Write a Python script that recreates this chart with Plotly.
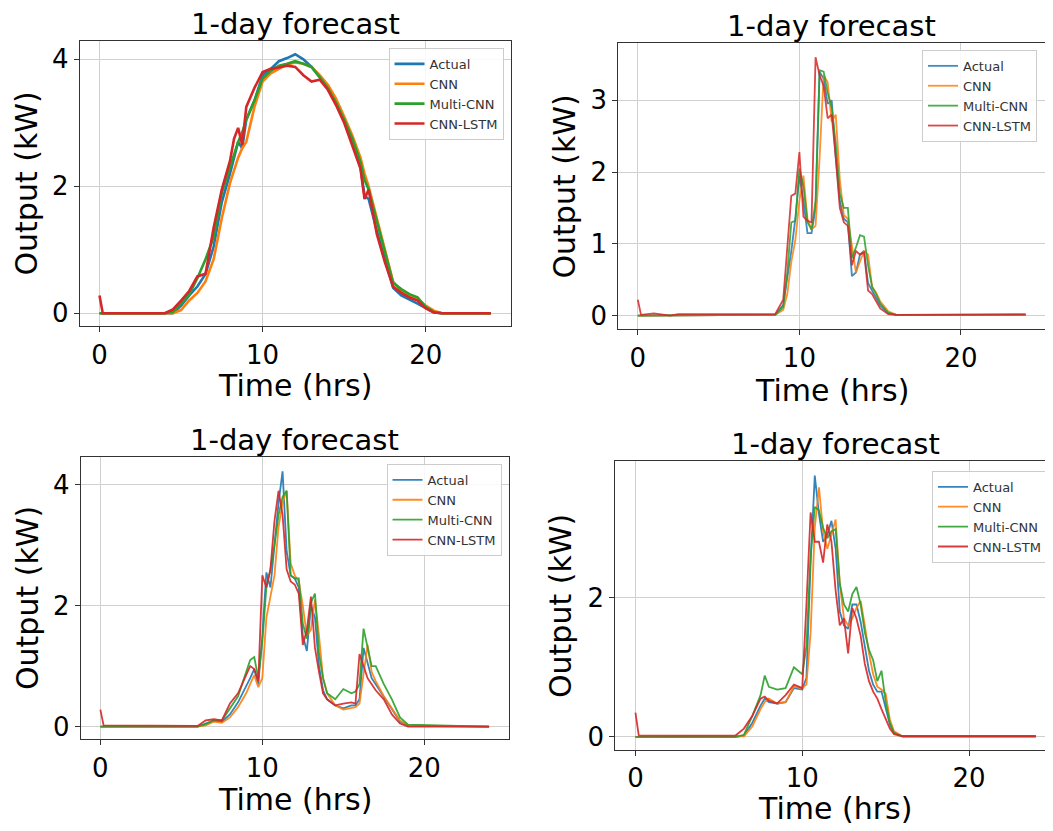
import plotly.graph_objects as go

# the page body adds an 8px margin, so the figure is drawn 8px smaller and
# every pixel position below is shifted back by 8
OFF = 8
W, H = 1053 - OFF, 831 - OFF

names = ["Actual", "CNN", "Multi-CNN", "CNN-LSTM"]
colors = ["#1f77b4", "#ff7f0e", "#2ca02c", "#d62728"]

# ---- panel 1 (top left) ----
t1 = [0, 0.2, 4.0, 4.5, 5.0, 5.5, 6.0, 6.5, 7.0, 7.5, 8.0, 8.25, 8.5, 8.75, 9.0, 9.5,
      10.0, 10.5, 11.0, 11.5, 12.0, 12.5, 13.0, 13.5, 14.0, 14.5, 15.0, 15.5, 16.0,
      16.25, 16.5, 17.0, 17.5, 18.0, 18.5, 19.0, 19.5, 20.0, 20.5, 21.0, 24.0]
actual1 = [0, 0, 0, 0, 0.12, 0.28, 0.42, 0.62, 1.05, 1.75, 2.2, 2.45, 2.7, 2.6, 3.05, 3.35,
           3.75, 3.85, 3.97, 4.02, 4.08, 4.0, 3.88, 3.72, 3.55, 3.3, 3.02, 2.7, 2.3,
           1.85, 1.8, 1.3, 0.85, 0.4, 0.28, 0.22, 0.15, 0.08, 0.01, 0, 0]
cnn1 = [0, 0, 0, 0, 0.05, 0.2, 0.32, 0.5, 0.85, 1.5, 2.05, 2.25, 2.45, 2.6, 2.7, 3.25,
        3.65, 3.78, 3.85, 3.92, 3.95, 3.93, 3.88, 3.75, 3.6, 3.38, 3.1, 2.8, 2.45,
        2.2, 2.0, 1.5, 1.0, 0.5, 0.35, 0.28, 0.22, 0.12, 0.04, 0, 0]
multi1 = [0, 0, 0, 0.02, 0.15, 0.3, 0.55, 0.85, 1.2, 1.9, 2.3, 2.5, 2.7, 2.85, 3.05, 3.35,
          3.7, 3.82, 3.9, 3.93, 3.97, 3.93, 3.88, 3.72, 3.55, 3.32, 3.05, 2.75, 2.38,
          2.1, 1.95, 1.45, 0.95, 0.48, 0.38, 0.3, 0.25, 0.1, 0.02, 0, 0]
lstm1 = [0.28, 0, 0, 0.06, 0.2, 0.35, 0.58, 0.62, 1.35, 1.95, 2.4, 2.75, 2.92, 2.65, 3.25, 3.55,
         3.8, 3.85, 3.87, 3.9, 3.88, 3.75, 3.65, 3.68, 3.52, 3.28, 3.0, 2.65, 2.28,
         1.8, 1.95, 1.25, 0.8, 0.42, 0.32, 0.25, 0.2, 0.08, 0.01, 0, 0]

# ---- panel 2 (top right) ----
t2 = [0, 0.2, 1.0, 1.5, 2.0, 2.5, 8.5, 9.0, 9.25, 9.5, 9.75, 10.0, 10.25, 10.5, 10.75,
      11.0, 11.25, 11.5, 11.75, 12.0, 12.25, 12.5, 12.75, 13.0, 13.25, 13.5, 13.75,
      14.0, 14.25, 14.5, 14.75, 15.0, 15.5, 16.0, 24.0]
actual2 = [0, 0, 0, 0, 0, 0, 0.01, 0.15, 0.5, 0.9, 1.35, 1.95, 1.6, 1.15, 1.15,
           1.5, 3.4, 3.3, 2.95, 3.0, 2.2, 1.6, 1.35, 1.3, 0.55, 0.6, 0.85,
           0.9, 0.45, 0.35, 0.25, 0.14, 0.03, 0.01, 0.01]
cnn2 = [0, 0, 0, 0, 0, 0, 0.01, 0.08, 0.3, 0.75, 1.05, 1.6, 1.95, 1.35, 1.2,
        1.25, 2.2, 3.35, 3.25, 2.7, 2.8, 1.9, 1.4, 1.35, 0.95, 0.6, 0.75,
        0.9, 0.85, 0.4, 0.32, 0.2, 0.06, 0.01, 0.01]
multi2 = [0, 0, 0, 0, 0, 0, 0.01, 0.12, 0.6, 1.3, 1.32, 2.05, 1.8, 1.3, 1.2,
          1.6, 3.42, 3.4, 3.1, 2.9, 2.4, 1.7, 1.5, 1.5, 0.8, 0.95, 1.12,
          1.1, 0.7, 0.4, 0.3, 0.17, 0.04, 0.01, 0.01]
lstm2 = [0.22, 0.01, 0.03, 0.02, 0.0, 0.02, 0.02, 0.22, 1.0, 1.67, 1.7, 2.28, 1.38, 1.32, 1.3,
         3.6, 3.35, 3.2, 2.75, 2.8, 2.2, 1.5, 1.3, 1.25, 0.7, 0.9, 0.85,
         0.88, 0.35, 0.3, 0.2, 0.1, 0.02, 0.01, 0.02]

# ---- panel 3 (bottom left) ----
t3 = [0, 0.2, 6.0, 6.5, 7.0, 7.5, 8.0, 8.5, 9.0, 9.25, 9.5, 9.75, 10.0, 10.25, 10.5,
      10.75, 11.0, 11.25, 11.5, 11.75, 12.0, 12.25, 12.5, 12.75, 13.0, 13.25, 13.5,
      13.75, 14.0, 14.5, 15.0, 15.5, 15.75, 16.0, 16.25, 16.5, 16.75, 17.0, 17.5,
      18.0, 18.5, 19.0, 24.0]
actual3 = [0, 0, 0, 0.05, 0.1, 0.08, 0.2, 0.4, 0.65, 0.8, 0.95, 0.7, 1.5, 2.55, 2.3,
           3.0, 3.7, 4.22, 2.9, 2.5, 2.45, 2.3, 1.5, 1.25, 2.0, 1.8, 1.0,
           0.6, 0.45, 0.35, 0.3, 0.35, 0.35, 0.45, 1.3, 1.05, 0.8, 0.7, 0.5,
           0.3, 0.08, 0.01, 0]
cnn3 = [0, 0, 0, 0.02, 0.08, 0.06, 0.15, 0.32, 0.55, 0.7, 0.85, 0.65, 0.8, 1.8, 2.15,
        2.5, 3.3, 3.7, 3.9, 2.7, 2.5, 2.4, 2.0, 1.5, 1.6, 2.1, 1.5,
        0.8, 0.55, 0.35, 0.28, 0.3, 0.32, 0.38, 0.9, 1.35, 0.9, 0.75, 0.5,
        0.3, 0.1, 0.02, 0]
multi3 = [0, 0, 0, 0.04, 0.1, 0.1, 0.3, 0.5, 0.9, 1.1, 1.15, 0.8, 1.4, 2.3, 2.6,
          3.0, 3.5, 3.8, 3.9, 2.5, 2.45, 2.45, 1.7, 1.45, 2.05, 2.2, 1.2,
          0.8, 0.55, 0.45, 0.62, 0.55, 0.58, 0.7, 1.62, 1.3, 1.0, 1.0, 0.7,
          0.45, 0.15, 0.03, 0]
lstm3 = [0.28, 0.02, 0.01, 0.1, 0.12, 0.1, 0.38, 0.55, 0.85, 1.0, 0.95, 0.75, 2.5, 2.3, 2.6,
         3.4, 3.9, 3.5, 2.6, 2.4, 2.35, 2.2, 1.35, 1.6, 2.15, 1.3, 0.9,
         0.55, 0.45, 0.35, 0.38, 0.4, 0.38, 1.2, 1.0, 0.8, 0.7, 0.6, 0.45,
         0.2, 0.05, 0.0, 0]

# ---- panel 4 (bottom right) ----
t4 = [0, 0.2, 6.0, 6.5, 7.0, 7.5, 7.75, 8.0, 8.5, 9.0, 9.5, 10.0, 10.25, 10.5, 10.75,
      11.0, 11.25, 11.5, 11.75, 12.0, 12.25, 12.5, 12.75, 13.0, 13.25, 13.5, 13.75,
      14.0, 14.25, 14.5, 14.75, 15.0, 15.25, 15.5, 16.0, 24.0]
actual4 = [0, 0, 0, 0.02, 0.2, 0.45, 0.55, 0.5, 0.48, 0.5, 0.7, 0.68, 0.85, 2.5, 3.75,
           3.2, 2.8, 2.9, 3.1, 2.7, 1.8, 1.6, 1.55, 1.9, 1.9, 1.65, 1.3,
           0.95, 0.75, 0.65, 0.65, 0.4, 0.18, 0.06, 0.01, 0.01]
cnn4 = [0, 0, 0, 0.01, 0.15, 0.4, 0.5, 0.55, 0.48, 0.5, 0.72, 0.7, 0.75, 1.5, 3.0,
        3.58, 2.95, 2.7, 2.9, 3.12, 2.2, 1.7, 1.6, 1.7, 1.85, 1.95, 1.6,
        1.2, 0.9, 0.72, 0.68, 0.62, 0.25, 0.08, 0.01, 0.01]
multi4 = [0, 0, 0, 0.03, 0.3, 0.6, 0.88, 0.72, 0.68, 0.7, 1.0, 0.9, 1.3, 2.6, 3.3,
          3.25, 3.0, 2.85, 2.95, 2.98, 2.2, 1.9, 1.8, 2.05, 2.15, 1.9, 1.5,
          1.25, 1.1, 0.8, 0.95, 0.5, 0.2, 0.06, 0.01, 0.01]
lstm4 = [0.35, 0.02, 0.02, 0.12, 0.3, 0.55, 0.58, 0.52, 0.48, 0.6, 0.75, 0.7, 1.9, 3.22, 2.8,
         2.8, 2.5, 3.05, 2.8, 2.1, 1.6, 1.7, 1.2, 1.85, 1.7, 1.45, 1.05,
         0.8, 0.65, 0.55, 0.4, 0.25, 0.12, 0.04, 0.01, 0.01]

x_ticks = [0, 10, 20]

# pixel boxes of each axes in the reference: left, right, top, bottom
panels = [
    dict(t=t1, ys=[actual1, cnn1, multi1, lstm1], box=(80, 511, 41, 327),
         xr=[-1.2, 25.2], yr=[-0.205, 4.29], yt=[0, 2, 4], lw=2.6, op=1.0,
         leg=(504, 48), ytitle_x=27, xtitle_y=386, cx=295.5),
    dict(t=t2, ys=[actual2, cnn2, multi2, lstm2], box=(619, 1046, 43, 330),
         xr=[-1.2, 25.2], yr=[-0.19, 3.8], yt=[0, 1, 2, 3], lw=1.8, op=0.85,
         leg=(1038, 50), ytitle_x=565, xtitle_y=391, cx=832.5),
    dict(t=t3, ys=[actual3, cnn3, multi3, lstm3], box=(81, 509, 458, 741),
         xr=[-1.2, 25.2], yr=[-0.21, 4.46], yt=[0, 2, 4], lw=1.8, op=0.9,
         leg=(502, 465), ytitle_x=27, xtitle_y=801, cx=295),
    dict(t=t4, ys=[actual4, cnn4, multi4, lstm4], box=(616, 1053, 462, 752),
         xr=[-1.2, 24.97], yr=[-0.19, 3.96], yt=[0, 2], lw=1.8, op=0.9,
         leg=(1048, 472), ytitle_x=561, xtitle_y=810, cx=836),
]


def px(v):
    return (v - OFF) / W


def py(v):
    return 1 - (v - OFF) / H


FONT = "DejaVu Sans"
fig = go.Figure()
annotations = []
layout = {}

for i, p in enumerate(panels, start=1):
    sfx = "" if i == 1 else str(i)
    legname = "legend" + sfx
    l, r, top, bot = p["box"]
    for name, color, y in zip(names, colors, p["ys"]):
        fig.add_trace(go.Scatter(
            x=p["t"], y=y, mode="lines", name=name, opacity=p["op"],
            line=dict(color=color, width=p["lw"]),
            xaxis="x" + sfx, yaxis="y" + sfx, legend=legname,
        ))
    axis_common = dict(
        showline=True, linecolor="#333333", linewidth=1.2, mirror=True,
        ticks="outside", ticklen=5, tickcolor="#333333",
        showgrid=True, gridcolor="#d0d0d0", gridwidth=1, zeroline=False,
        tickfont=dict(family=FONT, size=26, color="black"),
    )
    layout["xaxis" + sfx] = dict(
        axis_common, domain=[px(l), min(px(r), 1)], range=p["xr"], tickvals=x_ticks,
        anchor="y" + sfx,
    )
    layout["yaxis" + sfx] = dict(
        axis_common, domain=[py(bot), py(top)], range=p["yr"], tickvals=p["yt"],
        anchor="x" + sfx,
    )
    lx, ly = p["leg"]
    layout[legname] = dict(
        x=px(lx), y=py(ly), xanchor="right", yanchor="top",
        bgcolor="rgba(255,255,255,0.85)", bordercolor="#cccccc", borderwidth=1,
        font=dict(family=FONT, size=13, color="#333333"),
        itemwidth=30, tracegroupgap=0,
    )
    annotations.append(dict(
        text="1-day forecast", x=px(p["cx"]), y=py(top), xref="paper", yref="paper",
        xanchor="center", yanchor="bottom", showarrow=False, yshift=-1, borderpad=0,
        font=dict(family=FONT, size=29, color="black"),
    ))
    annotations.append(dict(
        text="Time (hrs)", x=px(p["cx"]), y=py(p["xtitle_y"]), xref="paper", yref="paper",
        xanchor="center", yanchor="middle", showarrow=False,
        font=dict(family=FONT, size=30, color="black"),
    ))
    annotations.append(dict(
        text="Output (kW)", x=px(p["ytitle_x"]), y=py((top + bot) / 2),
        xref="paper", yref="paper", xanchor="center", yanchor="middle",
        showarrow=False, textangle=-90,
        font=dict(family=FONT, size=30, color="black"),
    ))

fig.update_layout(
    width=W, height=H, margin=dict(l=0, r=0, t=0, b=0),
    paper_bgcolor="white", plot_bgcolor="white",
    annotations=annotations, **layout,
)

fig.write_html("out.html")
